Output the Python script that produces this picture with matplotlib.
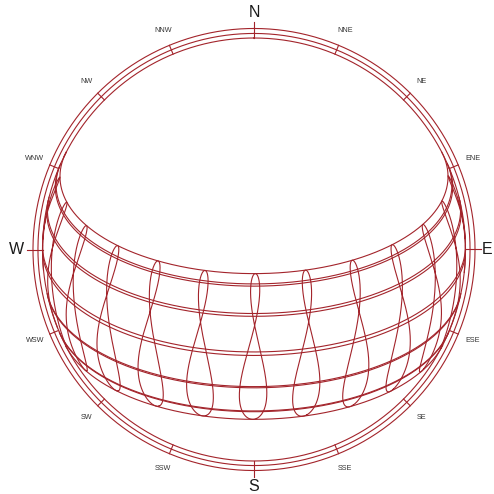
import numpy as np
import matplotlib
matplotlib.use("Agg")
import matplotlib.pyplot as plt

# Site and sun-path settings
latitude = 30.0                       # degrees north
path_days = [21, 52, 80, 111, 141, 172, 202, 233, 264, 294, 325, 355]  # 21st of each month
analemma_hours = list(range(5, 20))   # clock hours
compass_labels = ["N", "NNE", "NE", "ENE", "E", "ESE", "SE", "SSE",
                  "S", "SSW", "SW", "WSW", "W", "WNW", "NW", "NNW"]
compass_angles = [22.5 * i for i in range(16)]
ring_radii = [1.0, 1.0215, 1.045]     # horizon plus two compass rings

LINE = "#a3242b"
phi = np.radians(latitude)


def declination_eot(day, hour):
    g = 2 * np.pi / 365.0 * (day - 1 + (hour - 12) / 24.0)
    dec = (0.006918 - 0.399912 * np.cos(g) + 0.070257 * np.sin(g)
           - 0.006758 * np.cos(2 * g) + 0.000907 * np.sin(2 * g)
           - 0.002697 * np.cos(3 * g) + 0.00148 * np.sin(3 * g))
    eot = 229.18 * (0.000075 + 0.001868 * np.cos(g) - 0.032077 * np.sin(g)
                    - 0.014615 * np.cos(2 * g) - 0.040849 * np.sin(2 * g))
    return dec, eot


def sun_vector(dec, hour_angle):
    east = -np.cos(dec) * np.sin(hour_angle)
    north = np.cos(phi) * np.sin(dec) - np.sin(phi) * np.cos(dec) * np.cos(hour_angle)
    up = np.sin(phi) * np.sin(dec) + np.cos(phi) * np.cos(dec) * np.cos(hour_angle)
    return east, north, up


fig = plt.figure(figsize=(4.94, 4.94), dpi=100)
ax = fig.add_axes([0, 0, 1, 1])
R_px = 211.5
cx, cy = 254.0, 249.5
ax.set_xlim(-cx / R_px, (494 - cx) / R_px)
ax.set_ylim(-(494 - cy) / R_px, cy / R_px)
ax.set_aspect("equal")
ax.axis("off")

# compass rings
t = np.linspace(0, 2 * np.pi, 720)
for r in ring_radii:
    ax.plot(r * np.sin(t), r * np.cos(t), color=LINE, lw=0.8)

# compass ticks and labels
for lab, ang in zip(compass_labels, compass_angles):
    a = np.radians(ang)
    major = len(lab) == 1
    r_out = 1.074 if major else ring_radii[-1]
    ax.plot([np.sin(a), r_out * np.sin(a)], [np.cos(a), r_out * np.cos(a)],
            color=LINE, lw=0.8)
    rl = 1.104 if lab == "E" else 1.121
    ax.text(rl * np.sin(a), rl * np.cos(a), lab, ha="center", va="center",
            fontsize=11.5 if major else 5.2, family="Liberation Sans",
            color="#1a1a1a" if major else "#333333")

# daily sun paths
H = np.radians(np.linspace(-180, 180, 3601))
for d in path_days:
    dec, _ = declination_eot(d, 12)
    e, n, u = sun_vector(dec, H)
    e = np.where(u >= 0, e, np.nan)
    n = np.where(u >= 0, n, np.nan)
    ax.plot(e, n, color=LINE, lw=0.8)

# hourly analemmas
days = np.linspace(1, 366, 1500)
for h in analemma_hours:
    dec, eot = declination_eot(days, h)
    tst = h + eot / 60.0
    ha = np.radians((tst - 12.0) * 15.0)
    e, n, u = sun_vector(dec, ha)
    e = np.where(u >= 0, e, np.nan)
    n = np.where(u >= 0, n, np.nan)
    ax.plot(e, n, color=LINE, lw=0.8)

fig.savefig("out.png", dpi=100, facecolor="white")
